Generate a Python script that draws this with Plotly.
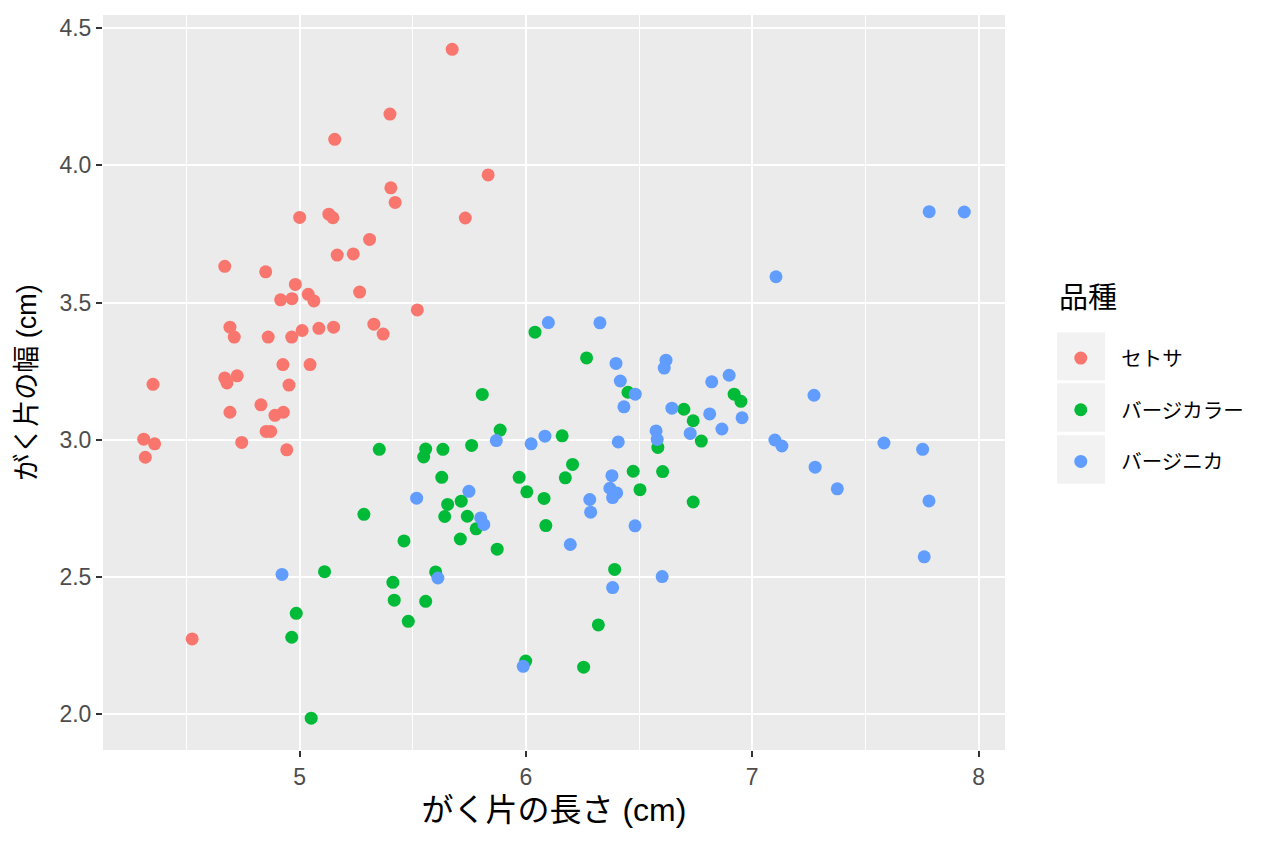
import plotly.graph_objects as go

# がく片の長さ / 幅 (cm) (jittered iris)
setosa_x = [5.674, 5.399, 5.155, 5.833, 5.403, 5.422, 5.000, 5.129, 5.147, 5.732,
            5.309, 5.166, 5.237, 4.669, 4.850, 4.981, 4.916, 4.966, 5.038, 5.063,
            5.265, 5.520, 4.692, 4.711, 4.861, 4.965, 5.011, 5.085, 5.150, 5.328,
            5.369, 4.926, 5.046, 4.352, 4.669, 4.679, 4.724, 4.953, 4.692, 4.829,
            4.891, 4.928, 4.852, 4.872, 4.744, 4.943, 4.311, 4.359, 4.318, 4.525]
setosa_y = [4.423, 4.187, 4.095, 3.965, 3.918, 3.865, 3.810, 3.822, 3.809, 3.808,
            3.730, 3.673, 3.677, 3.632, 3.612, 3.566, 3.510, 3.514, 3.530, 3.506,
            3.538, 3.473, 3.410, 3.374, 3.374, 3.374, 3.398, 3.406, 3.410, 3.421,
            3.385, 3.274, 3.274, 3.202, 3.225, 3.207, 3.233, 3.199, 3.100, 3.127,
            3.089, 3.100, 3.030, 3.030, 2.990, 2.963, 3.002, 2.985, 2.936, 2.274]

versicolor_x = [5.807, 5.886, 5.352, 5.557, 5.548, 5.633, 5.760, 5.628, 5.654, 5.714,
                5.641, 5.741, 5.780, 5.710, 5.873, 5.284, 5.461, 5.110, 5.601, 5.412,
                5.418, 5.557, 5.480, 4.985, 4.965, 5.051, 6.160, 5.970, 6.004, 6.080,
                6.206, 6.174, 6.583, 6.474, 6.604, 6.504, 6.088, 6.392, 6.320, 5.999,
                6.255, 6.040, 6.268, 6.451, 6.920, 6.950, 6.698, 6.739, 6.775, 6.739]
versicolor_y = [3.165, 3.035, 2.965, 2.966, 2.937, 2.965, 2.979, 2.863, 2.764, 2.776,
                2.720, 2.721, 2.675, 2.638, 2.601, 2.728, 2.631, 2.519, 2.518, 2.480,
                2.415, 2.411, 2.338, 2.367, 2.280, 1.985, 3.014, 2.863, 2.810, 2.786,
                2.910, 2.861, 2.972, 2.885, 2.884, 2.818, 2.687, 2.527, 2.325, 2.193,
                2.171, 3.392, 3.298, 3.173, 3.166, 3.140, 3.111, 3.069, 2.995, 2.773]

virginica_x = [5.869, 5.517, 5.748, 5.800, 5.814, 4.922, 5.611, 6.433, 6.645, 6.575,
               6.580, 6.023, 6.084, 6.408, 6.380, 6.371, 6.401, 6.383, 6.282, 6.286,
               6.482, 6.196, 6.383, 6.602, 5.988, 6.099, 6.327, 6.398, 6.619, 6.611,
               6.417, 6.483, 6.821, 6.898, 6.812, 6.955, 6.866, 6.726, 7.100, 7.131,
               7.782, 7.937, 7.105, 7.273, 7.278, 7.376, 7.582, 7.753, 7.781, 7.760]
virginica_y = [2.997, 2.787, 2.812, 2.715, 2.691, 2.509, 2.496, 3.120, 3.115, 3.032,
               3.001, 2.985, 3.013, 2.992, 2.869, 2.823, 2.806, 2.789, 2.782, 2.736,
               2.686, 2.618, 2.461, 2.501, 2.174, 3.427, 3.426, 3.278, 3.290, 3.261,
               3.214, 3.166, 3.211, 3.235, 3.094, 3.080, 3.039, 3.023, 2.999, 2.977,
               3.831, 3.830, 3.594, 3.162, 2.900, 2.821, 2.988, 2.965, 2.777, 2.573]

species = ["セトサ", "バージカラー", "バージニカ"]
colors = ["#F8766D", "#00BA38", "#619CFF"]
x_ticks = [5, 6, 7, 8]
y_ticks = [2.0, 2.5, 3.0, 3.5, 4.0, 4.5]

FONT = "Liberation Sans, Noto Sans CJK JP, sans-serif"

fig = go.Figure()
for i, (name, xs, ys) in enumerate(zip(species,
                                       [setosa_x, versicolor_x, virginica_x],
                                       [setosa_y, versicolor_y, virginica_y])):
    fig.add_trace(go.Scatter(
        x=xs, y=ys, mode="markers", name=name, legendgroup=name,
        marker=dict(color=colors[i], size=13, line=dict(width=0)),
    ))

# grey legend key boxes, ggplot style
for y0, y1 in [(0.503, 0.568), (0.433, 0.499), (0.3624, 0.4282)]:
    fig.add_shape(type="rect", xref="paper", yref="paper",
                  x0=1.0576, x1=1.1109, y0=y0, y1=y1,
                  fillcolor="#F2F2F2", line=dict(width=0), layer="below")

# legend title as annotation (plotly puts it too close to the keys)
fig.add_annotation(text="品種", xref="paper", yref="paper", x=1.0576, y=0.6147,
                   xanchor="left", yanchor="middle", showarrow=False,
                   font=dict(family=FONT, size=29, color="black"))

axis_common = dict(
    showgrid=True, gridcolor="white", gridwidth=2,
    zeroline=False, showline=False,
    ticks="outside", ticklen=6, tickwidth=2, tickcolor="#333333",
    tickfont=dict(family=FONT, size=23, color="#4D4D4D"),
    minor=dict(showgrid=True, gridcolor="white", gridwidth=1, dtick=0.5),
)

fig.update_xaxes(
    range=[4.131, 8.117], tickvals=x_ticks,
    title=dict(text="がく片の長さ (cm)", font=dict(family=FONT, size=32, color="black"),
               standoff=10),
    **axis_common,
)
fig.update_yaxes(
    range=[1.869, 4.548], tickvals=y_ticks, tickformat=".1f",
    title=dict(text="がく片の幅 (cm)", font=dict(family=FONT, size=27, color="black"),
               standoff=14),
    **axis_common,
)

# page body adds ~8px offset, margins compensate
fig.update_layout(
    width=1264, height=848,
    margin=dict(l=95, r=267, t=7, b=106),
    plot_bgcolor="#EBEBEB", paper_bgcolor="white",
    legend=dict(
        font=dict(family=FONT, size=20.5, color="black"),
        x=1.0391, xanchor="left", y=0.5602, yanchor="top",
        bgcolor="rgba(0,0,0,0)", traceorder="grouped", tracegroupgap=22,
        itemsizing="trace", itemwidth=71,
    ),
)

fig.write_html("out.html")
